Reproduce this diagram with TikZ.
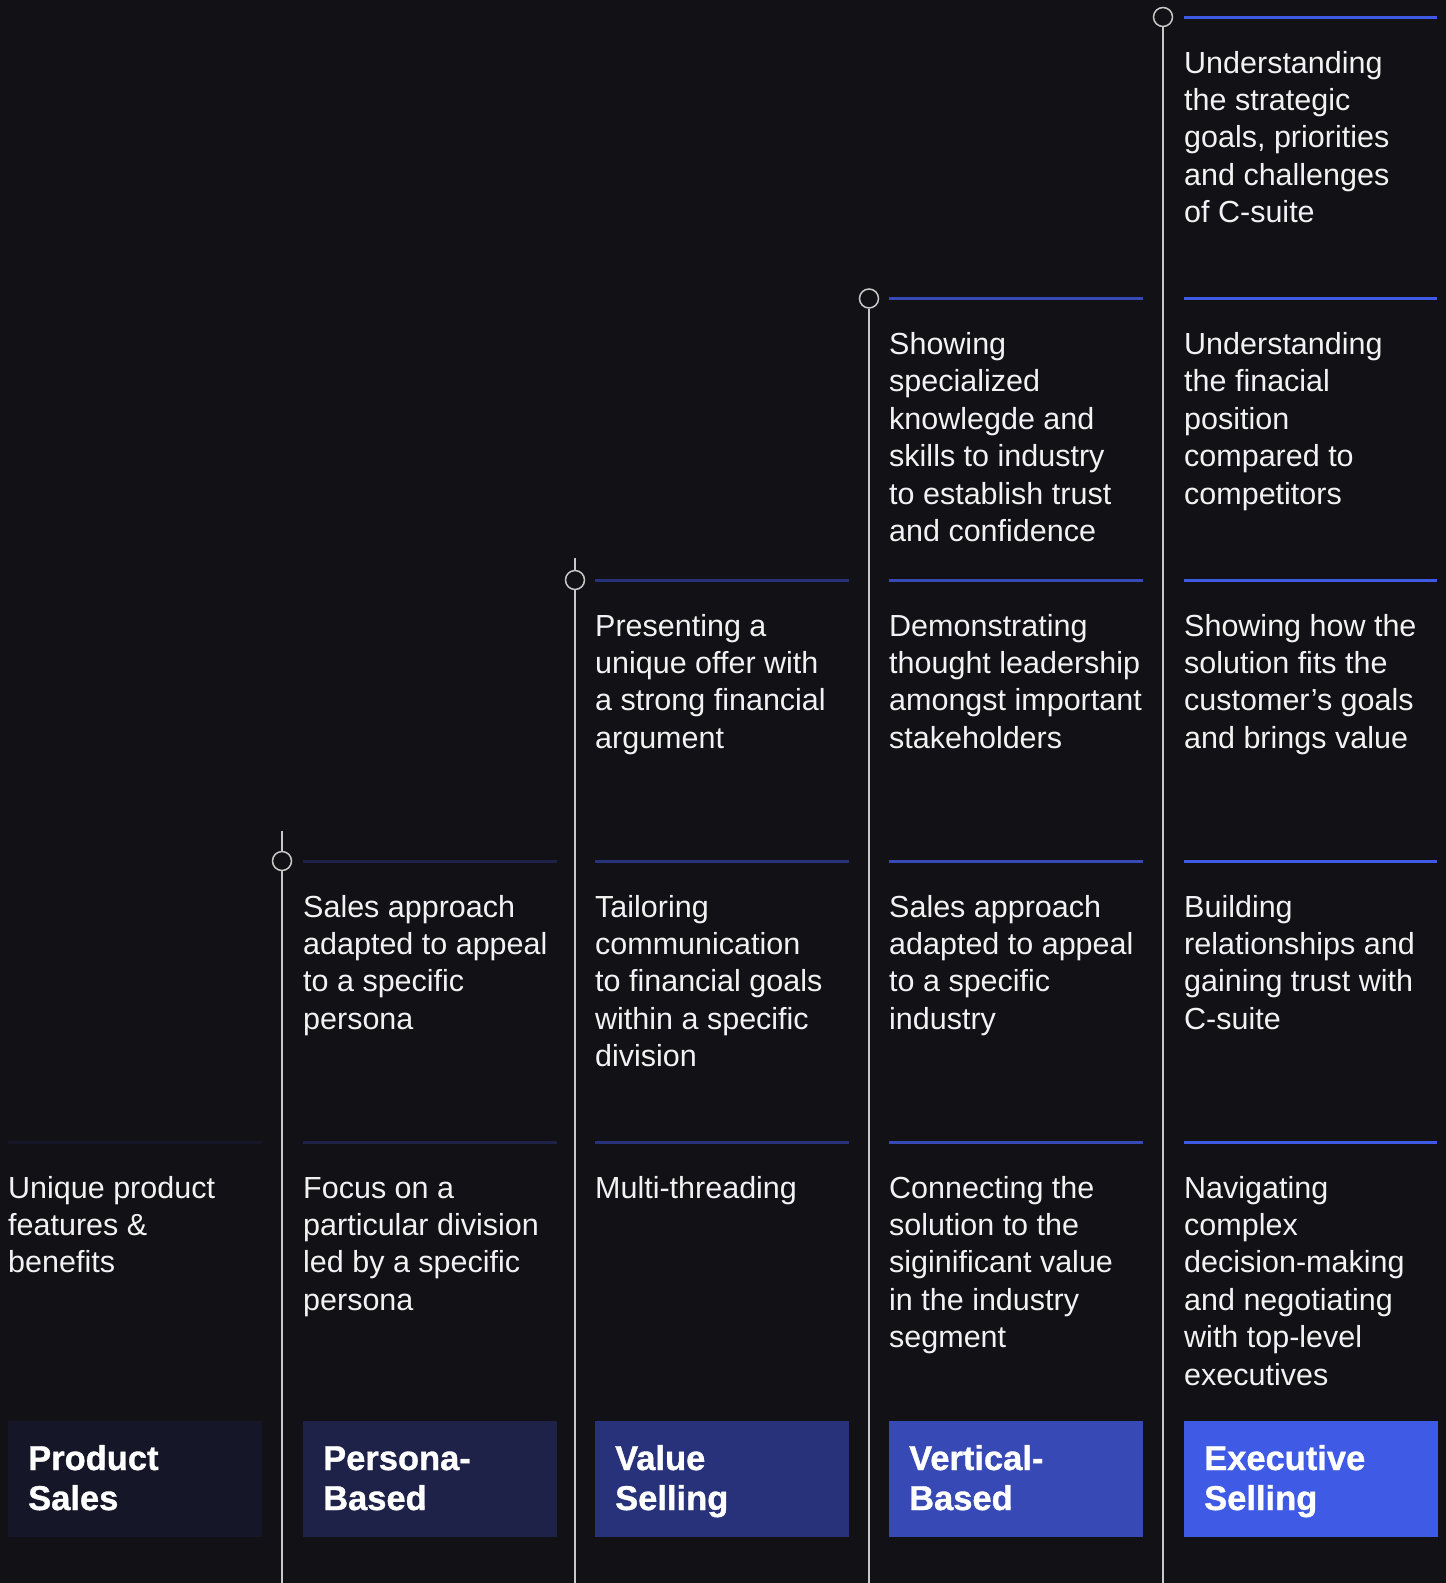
\documentclass[tikz,border=0pt]{standalone}
\usepackage{fontspec}
\setmainfont{Liberation Sans}
\newfontfamily\titlefont{Liberation Sans}[BoldFeatures={FakeBold=1}]
\definecolor{bg}{HTML}{111116}
\definecolor{c0}{HTML}{151729}
\definecolor{c1}{HTML}{1E2148}
\definecolor{c2}{HTML}{27327A}
\definecolor{c3}{HTML}{3749B4}
\definecolor{c4}{HTML}{3F5BE6}
\definecolor{vline}{HTML}{C8C8C8}
\definecolor{txt}{HTML}{F2F2F2}
\newcommand\ml[1]{\vtop{\baselineskip=37.4pt\lineskiplimit=-50pt\lineskip=0pt\halign{##\hfil\cr#1\crcr}}}
\newcommand\tl[1]{\vtop{\baselineskip=40pt\lineskiplimit=-50pt\lineskip=0pt\halign{##\hfil\cr#1\crcr}}}
\tikzset{
 rulebar/.style={line width=3pt, line cap=butt},
 vrule/.style={draw=vline, line width=1.5pt},
 dot/.style={circle, draw=vline, fill=bg, line width=1.5pt, minimum size=19pt, inner sep=0pt},
 body/.style={anchor=base west, inner sep=0pt, text=txt, font=\fontsize{30.5}{37.4}\selectfont},
 titlebox/.style={minimum width=254pt, minimum height=116pt, anchor=north west, inner sep=0pt},
 titletext/.style={anchor=base west, inner sep=0pt, text=white, font=\titlefont\fontsize{34.5}{40}\selectfont\bfseries},
}
\begin{document}
\begin{tikzpicture}[x=1pt,y=-1pt]
\fill[bg] (0,0) rectangle (1446,1583);
\useasboundingbox (0,0) rectangle (1446,1583);

% vertical lines with dots
\coordinate (t1) at (282,831);  \coordinate (b1) at (282,1583);
\coordinate (t2) at (575,558);  \coordinate (b2) at (575,1583);
\coordinate (b3) at (869,1583);
\coordinate (b4) at (1163,1583);
\node[dot] (d1) at (282,861) {};
\node[dot] (d2) at (575,580) {};
\node[dot] (d3) at (869,298.5) {};
\node[dot] (d4) at (1163,17) {};
\draw[vrule] (t1) -- (d1.north); \draw[vrule] (d1.south) -- (b1);
\draw[vrule] (t2) -- (d2.north); \draw[vrule] (d2.south) -- (b2);
\draw[vrule] (d3.south) -- (b3);
\draw[vrule] (d4.south) -- (b4);

% horizontal rules
\draw[rulebar, draw=c0] (8,1142) -- ++(254,0);
\foreach \y in {861,1142} \draw[rulebar, draw=c1] (303,\y) -- ++(254,0);
\foreach \y in {580,861,1142} \draw[rulebar, draw=c2] (595,\y) -- ++(254,0);
\foreach \y in {298.5,580,861,1142} \draw[rulebar, draw=c3] (889,\y) -- ++(254,0);
\foreach \y in {17,298.5,580,861,1142} \draw[rulebar, draw=c4] (1184,\y) -- ++(253,0);

% column 0
\node[body] (a4) at (8,1198) {\ml{Unique product\cr features \&\cr benefits}};
% column 1
\node[body] (p3) at (303,917) {\ml{Sales approach\cr adapted to appeal\cr to a specific\cr persona}};
\node[body] (p4) at (303,1198) {\ml{Focus on a\cr particular division\cr led by a specific\cr persona}};
% column 2
\node[body] (v2) at (595,636) {\ml{Presenting a\cr unique offer with\cr a strong financial\cr argument}};
\node[body] (v3) at (595,917) {\ml{Tailoring\cr communication\cr to financial goals\cr within a specific\cr division}};
\node[body] (v4) at (595,1198) {\ml{Multi-threading}};
% column 3
\node[body] (r1) at (889,354.5) {\ml{Showing\cr specialized\cr knowlegde and\cr skills to industry\cr to establish trust\cr and confidence}};
\node[body] (r2) at (889,636) {\ml{Demonstrating\cr thought leadership\cr amongst important\cr stakeholders}};
\node[body] (r3) at (889,917) {\ml{Sales approach\cr adapted to appeal\cr to a specific\cr industry}};
\node[body] (r4) at (889,1198) {\ml{Connecting the\cr solution to the\cr siginificant value\cr in the industry\cr segment}};
% column 4
\node[body] (e0) at (1184,73) {\ml{Understanding\cr the strategic\cr goals, priorities\cr and challenges\cr of C-suite}};
\node[body] (e1) at (1184,354.5) {\ml{Understanding\cr the finacial\cr position\cr compared to\cr competitors}};
\node[body] (e2) at (1184,636) {\ml{Showing how the\cr solution fits the\cr customer’s goals\cr and brings value}};
\node[body] (e3) at (1184,917) {\ml{Building\cr relationships and\cr gaining trust with\cr C-suite}};
\node[body] (e4) at (1184,1198) {\ml{Navigating\cr complex\cr decision-making\cr and negotiating\cr with top-level\cr executives}};

% title boxes
\node[titlebox, fill=c0] (B0) at (8,1421) {};
\node[titlebox, fill=c1] (B1) at (303,1421) {};
\node[titlebox, fill=c2] (B2) at (595,1421) {};
\node[titlebox, fill=c3] (B3) at (889,1421) {};
\node[titlebox, fill=c4] (B4) at (1184,1421) {};
\node[titletext] (T0) at (28,1470) {\tl{Product\cr Sales}};
\node[titletext] (T1) at (323,1470) {\tl{Persona-\cr Based}};
\node[titletext] (T2) at (615,1470) {\tl{Value\cr Selling}};
\node[titletext] (T3) at (909,1470) {\tl{Vertical-\cr Based}};
\node[titletext] (T4) at (1204,1470) {\tl{Executive\cr Selling}};
\end{tikzpicture}
\end{document}
